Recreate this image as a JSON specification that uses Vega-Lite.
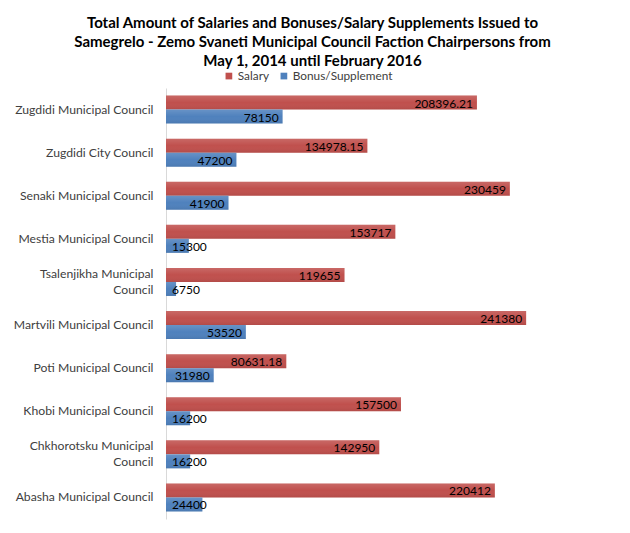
{
  "$schema": "https://vega.github.io/schema/vega-lite/v6.json",
  "autosize": "none",
  "width": 373,
  "height": 431,
  "padding": {"left": 166, "top": 88, "right": 91, "bottom": 14},
  "background": "white",
  "title": {
    "text": ["Total Amount of Salaries and Bonuses/Salary Supplements Issued to", "Samegrelo - Zemo Svaneti Municipal Council Faction Chairpersons from", "May 1, 2014 until February 2016"],
    "font": "Lato",
    "fontSize": 15,
    "fontWeight": "bold",
    "color": "#000000",
    "anchor": "middle",
    "dx": -40,
    "offset": 1,
    "lineHeight": 19
  },
  "data": {
    "values": [
      {"council": "Zugdidi Municipal Council", "series": "Salary", "amount": 208396.21, "label": "208396.21"},
      {"council": "Zugdidi Municipal Council", "series": "Bonus/Supplement", "amount": 78150, "label": "78150"},
      {"council": "Zugdidi City Council", "series": "Salary", "amount": 134978.15, "label": "134978.15"},
      {"council": "Zugdidi City Council", "series": "Bonus/Supplement", "amount": 47200, "label": "47200"},
      {"council": "Senaki Municipal Council", "series": "Salary", "amount": 230459, "label": "230459"},
      {"council": "Senaki Municipal Council", "series": "Bonus/Supplement", "amount": 41900, "label": "41900"},
      {"council": "Mestia Municipal Council", "series": "Salary", "amount": 153717, "label": "153717"},
      {"council": "Mestia Municipal Council", "series": "Bonus/Supplement", "amount": 15300, "label": "15300"},
      {"council": "Tsalenjikha Municipal Council", "series": "Salary", "amount": 119655, "label": "119655"},
      {"council": "Tsalenjikha Municipal Council", "series": "Bonus/Supplement", "amount": 6750, "label": "6750"},
      {"council": "Martvili Municipal Council", "series": "Salary", "amount": 241380, "label": "241380"},
      {"council": "Martvili Municipal Council", "series": "Bonus/Supplement", "amount": 53520, "label": "53520"},
      {"council": "Poti Municipal Council", "series": "Salary", "amount": 80631.18, "label": "80631.18"},
      {"council": "Poti Municipal Council", "series": "Bonus/Supplement", "amount": 31980, "label": "31980"},
      {"council": "Khobi Municipal Council", "series": "Salary", "amount": 157500, "label": "157500"},
      {"council": "Khobi Municipal Council", "series": "Bonus/Supplement", "amount": 16200, "label": "16200"},
      {"council": "Chkhorotsku Municipal Council", "series": "Salary", "amount": 142950, "label": "142950"},
      {"council": "Chkhorotsku Municipal Council", "series": "Bonus/Supplement", "amount": 16200, "label": "16200"},
      {"council": "Abasha Municipal Council", "series": "Salary", "amount": 220412, "label": "220412"},
      {"council": "Abasha Municipal Council", "series": "Bonus/Supplement", "amount": 24400, "label": "24400"}
    ]
  },
  "encoding": {
    "y": {
      "field": "council",
      "type": "nominal",
      "sort": null,
      "scale": {"paddingInner": 0.35, "paddingOuter": 0.175},
      "axis": {
        "title": null,
        "ticks": false,
        "domainColor": "#d9d9d9",
        "labelFont": "Lato",
        "labelFontSize": 12.2,
        "labelColor": "#404040",
        "labelPadding": 13,
        "labelLimit": 200,
        "labelLineHeight": 16,
        "labelOffset": {"condition": {"test": "datum.label == 'Tsalenjikha Municipal Council' || datum.label == 'Chkhorotsku Municipal Council'", "value": -8}, "value": 0},
        "labelExpr": "datum.label == 'Tsalenjikha Municipal Council' ? ['Tsalenjikha Municipal', 'Council'] : datum.label == 'Chkhorotsku Municipal Council' ? ['Chkhorotsku Municipal', 'Council'] : datum.label"
      }
    },
    "yOffset": {
      "field": "series",
      "type": "nominal",
      "sort": ["Salary", "Bonus/Supplement"],
      "scale": {"paddingInner": 0, "paddingOuter": 0}
    },
    "x": {"field": "amount", "type": "quantitative", "scale": {"domain": [0, 250000]}, "axis": null}
  },
  "layer": [
    {
      "mark": {"type": "bar"},
      "encoding": {
        "color": {
          "field": "series",
          "type": "nominal",
          "sort": ["Salary", "Bonus/Supplement"],
          "scale": {"domain": ["Salary", "Bonus/Supplement"], "range": ["#c0504d", "#4f81bd"]},
          "legend": {
            "title": null,
            "orient": "none",
            "legendX": 57,
            "legendY": -18,
            "direction": "horizontal",
            "symbolType": "square",
            "symbolSize": 45,
            "symbolStrokeWidth": 0,
            "labelFont": "Lato",
            "labelFontSize": 11.8,
            "labelColor": "#404040",
            "labelOffset": 3,
            "columnPadding": 8,
            "padding": 0
          }
        }
      }
    },
    {
      "mark": {
        "type": "bar",
        "fill": {
          "gradient": "linear", "x1": 0, "y1": 0, "x2": 0, "y2": 1,
          "stops": [
            {"offset": 0, "color": "rgba(255,255,255,0.14)"},
            {"offset": 0.5, "color": "rgba(255,255,255,0)"},
            {"offset": 1, "color": "rgba(0,0,0,0.07)"}
          ]
        }
      }
    },
    {
      "transform": [{"filter": "datum.amount >= 30000"}],
      "mark": {"type": "text", "align": "right", "baseline": "middle", "dx": -4, "dy": 1, "font": "Lato", "fontSize": 12, "color": "#000000"},
      "encoding": {
        "text": {"field": "label", "type": "nominal"}
      }
    },
    {
      "transform": [{"filter": "datum.amount < 30000"}],
      "mark": {"type": "text", "align": "left", "baseline": "middle", "dx": 6, "dy": 1, "font": "Lato", "fontSize": 12, "color": "#000000"},
      "encoding": {
        "x": {"datum": 0, "type": "quantitative"},
        "text": {"field": "label", "type": "nominal"}
      }
    }
  ],
  "config": {"view": {"stroke": null}}
}
